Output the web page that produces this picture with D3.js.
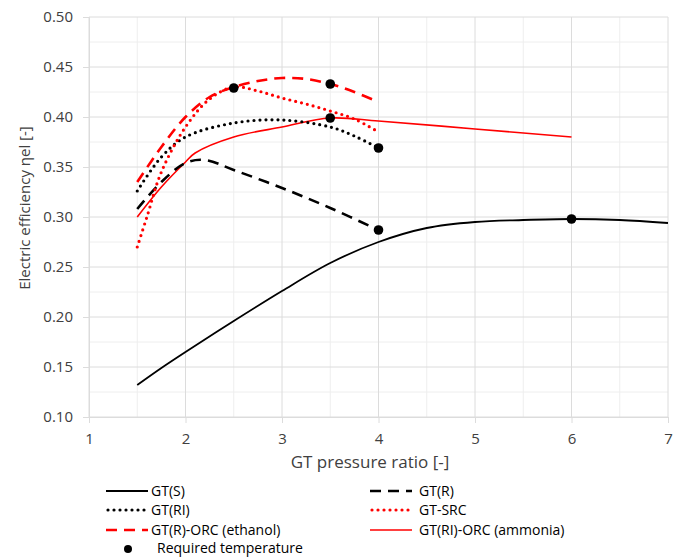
<!DOCTYPE html>
<html><head><meta charset="utf-8">
<script src="https://cdn.jsdelivr.net/npm/d3@7"></script>
<style>body{margin:0;background:#fff}svg{display:block;font-family:"Open Sans",sans-serif}</style>
</head><body><svg id="c" width="686" height="557"></svg>
<script>
const xTicks=[1,2,3,4,5,6,7];
const yTicks=[0.10,0.15,0.20,0.25,0.30,0.35,0.40,0.45,0.50];
const gtS_x=[1.5,1.75,2,2.5,3,3.5,4,4.5,5,5.5,6,6.5,7];
const gtS_y=[0.132,0.149,0.165,0.196,0.226,0.254,0.275,0.289,0.295,0.297,0.298,0.297,0.294];
const gtR_x=[1.5,1.75,2,2.2,2.5,3,3.5,4];
const gtR_y=[0.308,0.335,0.354,0.357,0.347,0.329,0.309,0.287];
const gtRI_x=[1.5,1.75,2,2.5,3,3.5,3.75,4];
const gtRI_y=[0.326,0.360,0.380,0.394,0.397,0.390,0.381,0.369];
const src_x=[1.5,1.6,1.75,2,2.25,2.5,2.75,3,3.25,3.5,3.75,4];
const src_y=[0.270,0.300,0.345,0.390,0.418,0.430,0.426,0.419,0.413,0.406,0.398,0.385];
const eth_x=[1.5,1.75,2,2.25,2.5,2.75,3,3.25,3.5,3.75,4];
const eth_y=[0.335,0.370,0.400,0.420,0.430,0.436,0.439,0.438,0.433,0.425,0.415];
const amm_x=[1.5,1.75,2,2.1,2.5,3,3.5,4,5,6];
const amm_y=[0.300,0.330,0.355,0.364,0.380,0.390,0.399,0.396,0.388,0.380];
const dot_x=[2.5,3.5,3.5,4,4,6];
const dot_y=[0.429,0.433,0.399,0.369,0.287,0.298];
const seriesNames=["GT(S)","GT(R)","GT(RI)","GT-SRC","GT(R)-ORC (ethanol)","GT(RI)-ORC (ammonia)"];

const svg=d3.select("#c");
const x=d3.scaleLinear().domain([1,7]).range([89,668]);
const y=d3.scaleLinear().domain([0.1,0.5]).range([417,17]);

const g=svg.append("g");
d3.range(1.5,7,1).forEach(v=>g.append("line").attr("x1",x(v)).attr("x2",x(v)).attr("y1",y(0.1)).attr("y2",y(0.5)).attr("stroke","#eeeeee"));
d3.range(0.125,0.5,0.05).forEach(v=>g.append("line").attr("x1",x(1)).attr("x2",x(7)).attr("y1",y(v)).attr("y2",y(v)).attr("stroke","#eeeeee"));
xTicks.forEach(v=>g.append("line").attr("x1",x(v)).attr("x2",x(v)).attr("y1",y(0.1)).attr("y2",y(0.5)).attr("stroke","#dcdcdc"));
yTicks.forEach(v=>g.append("line").attr("x1",x(1)).attr("x2",x(7)).attr("y1",y(v)).attr("y2",y(v)).attr("stroke","#dcdcdc"));

const xa=svg.append("g").attr("transform",`translate(0,${y(0.1)})`).call(d3.axisBottom(x).tickValues(xTicks).tickSize(6).tickPadding(10).tickFormat(d3.format("d")));
const ya=svg.append("g").attr("transform",`translate(${x(1)},0)`).call(d3.axisLeft(y).tickValues(yTicks).tickSize(6).tickPadding(10).tickFormat(d3.format(".2f")));
[xa,ya].forEach(a=>{a.select(".domain").attr("stroke","#dcdcdc");a.selectAll(".tick line").attr("stroke","#dcdcdc");a.selectAll("text").attr("fill","#404040").style("font-size","15px").style("font-family","Open Sans");});

svg.append("text").attr("x",370).attr("y",468).attr("text-anchor","middle").attr("fill","#404040").style("font-size","17px").text("GT pressure ratio [-]");
svg.append("text").attr("transform","translate(30,208) rotate(-90)").attr("text-anchor","middle").attr("fill","#404040").style("font-size","15px").text("Electric efficiency ηel [-]");

const styles=[
 {c:"#000",w:1.8,d:null,cap:"butt"},
 {c:"#000",w:2.6,d:"11 7",cap:"butt"},
 {c:"#000",w:3.2,d:"0 6",cap:"round"},
 {c:"#ff0000",w:3.2,d:"0 6",cap:"round"},
 {c:"#ff0000",w:2.6,d:"11 7",cap:"butt"},
 {c:"#ff0000",w:1.6,d:null,cap:"butt"}
];
const data=[[gtS_x,gtS_y],[gtR_x,gtR_y],[gtRI_x,gtRI_y],[src_x,src_y],[eth_x,eth_y],[amm_x,amm_y]];
const line=d3.line().x(d=>x(d[0])).y(d=>y(d[1])).curve(d3.curveCatmullRom.alpha(0.5));
const order=[0,5,1,2,3,4];
order.forEach(i=>{
 const s=styles[i];const pts=data[i][0].map((v,k)=>[v,data[i][1][k]]);
 svg.append("path").attr("d",line(pts)).attr("fill","none").attr("stroke",s.c).attr("stroke-width",s.w).attr("stroke-dasharray",s.d).attr("stroke-linecap",s.cap);
});
svg.selectAll("circle.dot").data(dot_x.map((v,k)=>[v,dot_y[k]])).join("circle").attr("class","dot").attr("cx",d=>x(d[0])).attr("cy",d=>y(d[1])).attr("r",4.8).attr("fill","#000");

const lg=svg.append("g");
const pos=[[106,491],[370,491],[106,510],[370,510],[106,530],[370,530]];
seriesNames.forEach((n,i)=>{
 const s=styles[i];const [lx,ly]=pos[i];
 lg.append("line").attr("x1",lx+(s.cap==="round"?2:0)).attr("x2",lx+42).attr("y1",ly).attr("y2",ly).attr("stroke",s.c).attr("stroke-width",s.w).attr("stroke-dasharray",s.d).attr("stroke-linecap",s.cap);
 lg.append("text").attr("x",lx+(i%2?49:45)).attr("y",ly+5).attr("fill","#000").style("font-size","14px").text(n);
});
lg.append("circle").attr("cx",128).attr("cy",549).attr("r",4).attr("fill","#000");
lg.append("text").attr("x",157).attr("y",553).attr("fill","#000").style("font-size","14px").text("Required temperature");
</script></body></html>
